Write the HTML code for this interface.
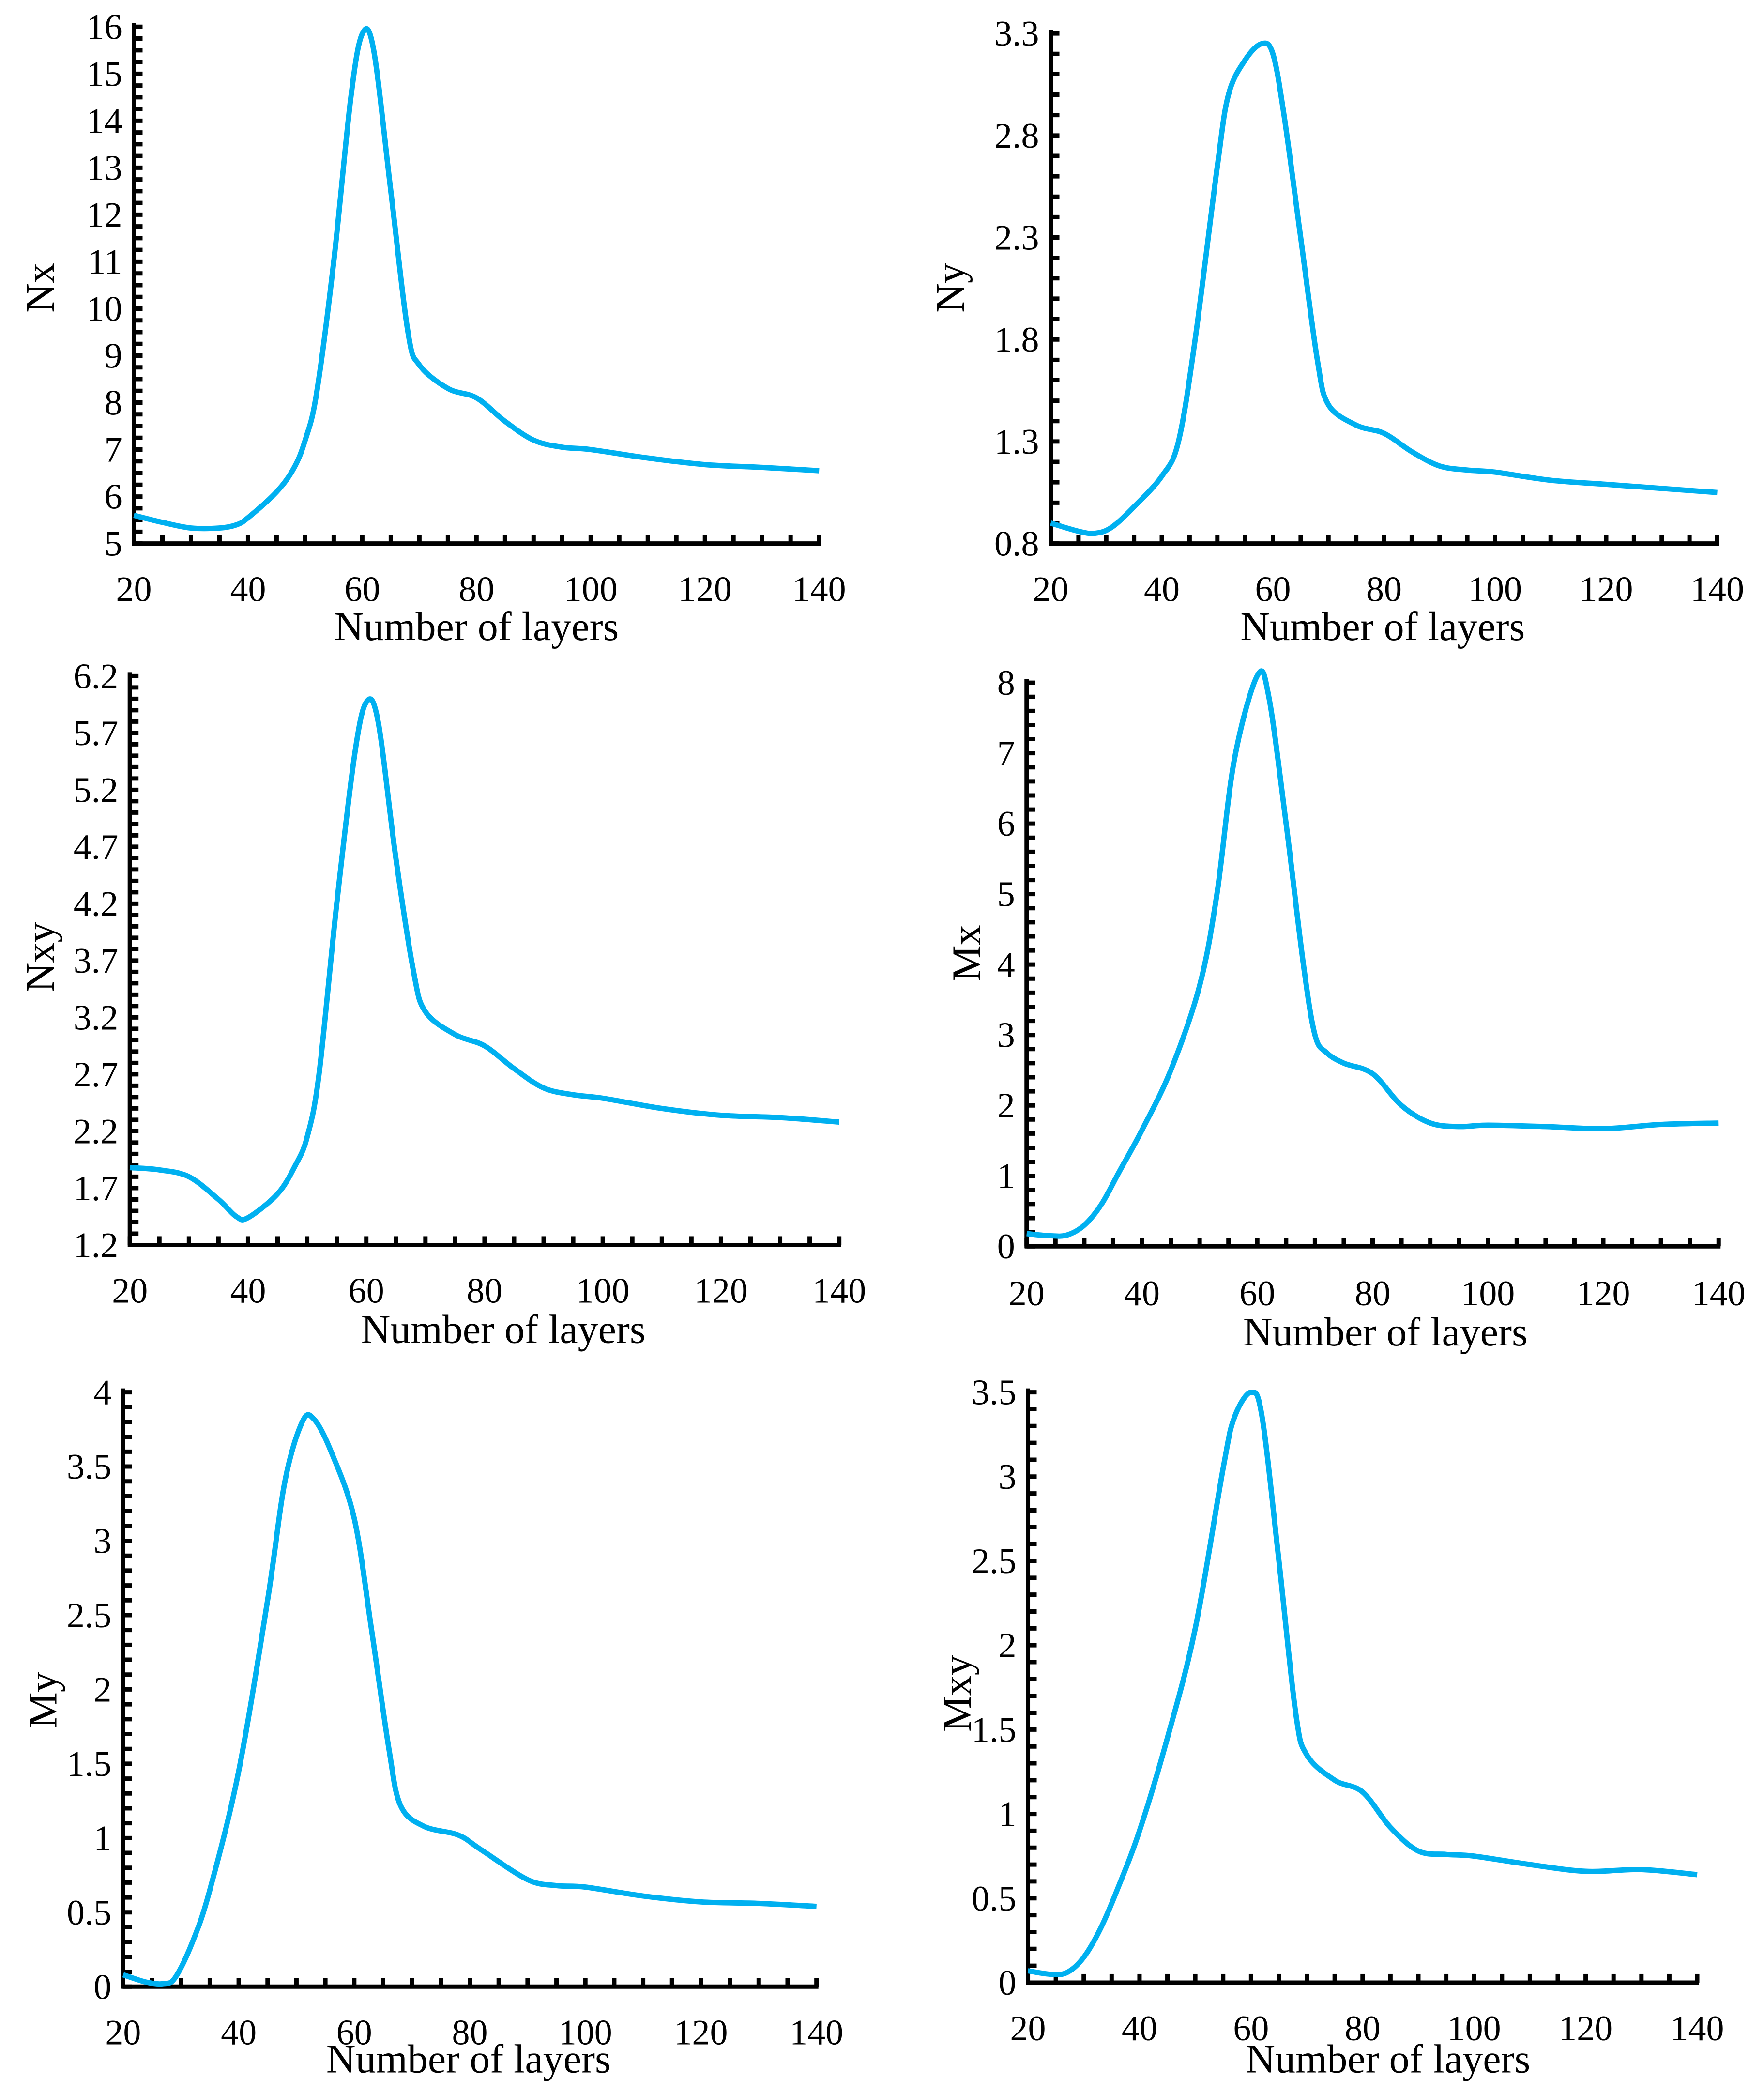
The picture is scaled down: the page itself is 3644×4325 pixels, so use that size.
<!DOCTYPE html>
<html><head><meta charset="utf-8"><style>
html,body{margin:0;padding:0;background:#fff}
svg text{font-family:"Liberation Serif",serif;fill:#000}
</style></head><body>
<svg id="fig" width="3644" height="4320" viewBox="0 0 3644 4320" xmlns="http://www.w3.org/2000/svg"></svg>
<script>
const nxX=[20,25,30,35,38,40,45,48,50,52,55,58,60,62,65,68,70,75,80,85,90,95,100,110,120,130,140];
const nxY=[5.6,5.45,5.33,5.33,5.4,5.55,6.1,6.6,7.2,8.2,11.0,14.5,15.85,15.5,12.5,9.5,8.8,8.3,8.1,7.6,7.2,7.05,7.0,6.82,6.68,6.62,6.55];
const nyX=[20,25,28,31,35,40,43,46,50,52,55,58,60,62,65,68,70,75,80,85,90,95,100,110,120,130,140];
const nyY=[0.9,0.86,0.85,0.88,0.98,1.13,1.3,1.8,2.65,3.0,3.17,3.25,3.2,2.9,2.3,1.7,1.48,1.38,1.34,1.25,1.18,1.16,1.15,1.11,1.09,1.07,1.05];
const nxyX=[20,25,30,35,38,40,45,48,50,52,55,58,60,62,65,68,70,75,80,85,90,95,100,110,120,130,140];
const nxyY=[1.88,1.86,1.8,1.6,1.45,1.44,1.65,1.9,2.15,2.7,4.2,5.5,5.97,5.8,4.6,3.6,3.25,3.05,2.95,2.75,2.58,2.52,2.49,2.4,2.34,2.32,2.28];
const mxX=[20,24,27,30,33,36,40,45,50,53,56,60,62,65,68,70,72,75,80,85,90,95,100,110,120,130,140];
const mxY=[0.18,0.15,0.16,0.3,0.6,1.05,1.65,2.5,3.7,5.0,6.9,8.1,7.8,6.0,4.0,3.0,2.75,2.6,2.45,2.0,1.75,1.7,1.72,1.7,1.67,1.73,1.75];
const myX=[20,24,27,29,32,35,40,45,48,51,53,56,60,63,66,68,72,78,82,90,95,100,110,120,130,140];
const myY=[0.08,0.03,0.02,0.06,0.3,0.65,1.45,2.6,3.4,3.8,3.82,3.6,3.15,2.4,1.6,1.22,1.08,1.02,0.92,0.72,0.68,0.67,0.61,0.57,0.56,0.54];
const mxyX=[20,24,27,30,33,36,40,45,50,55,57,60,62,65,68,70,75,80,85,90,95,100,110,120,130,140];
const mxyY=[0.07,0.05,0.06,0.15,0.32,0.55,0.9,1.45,2.1,3.05,3.35,3.5,3.35,2.5,1.6,1.35,1.2,1.13,0.92,0.78,0.76,0.75,0.7,0.66,0.67,0.64];
const xTicks=[20,40,60,80,100,120,140];
const nxTicks=[5,6,7,8,9,10,11,12,13,14,15,16];
const nyTicks=[0.8,1.3,1.8,2.3,2.8,3.3];
const nxyTicks=[1.2,1.7,2.2,2.7,3.2,3.7,4.2,4.7,5.2,5.7,6.2];
const mxTicks=[0,1,2,3,4,5,6,7,8];
const myTicks=[0,0.5,1,1.5,2,2.5,3,3.5,4];
const mxyTicks=[0,0.5,1,1.5,2,2.5,3,3.5];

const S=2.765, NS="http://www.w3.org/2000/svg", svg=document.getElementById('fig');
function el(t,a,p){const e=document.createElementNS(NS,t);for(const k in a)e.setAttribute(k,a[k]);(p||svg).appendChild(e);return e;}

const panels=[
 {n:'nx',title:'Nx',xs:nxX,ys:nxY,ticks:nxTicks,minor:0.25,ax:100,x1:612,y0:406,y1:20,ymin:5,ymax:16,xl:440,tl:468,tx:30,ty:215,xc:356},
 {n:'ny',title:'Ny',xs:nyX,ys:nyY,ticks:nyTicks,minor:0.1,ax:785,x1:1283,y0:406,y1:25,ymin:0.8,ymax:3.3,xl:440,tl:468,tx:710,ty:215,xc:1033},
 {n:'nxy',title:'Nxy',xs:nxyX,ys:nxyY,ticks:nxyTicks,minor:0.1,ax:97,x1:627,y0:930,y1:505,ymin:1.2,ymax:6.2,xl:964,tl:993,tx:30,ty:715,xc:376},
 {n:'mx',title:'Mx',xs:mxX,ys:mxY,ticks:mxTicks,minor:0.2,ax:767,x1:1284,y0:931,y1:510,ymin:0,ymax:8,xl:966,tl:995,tx:722,ty:712,xc:1035},
 {n:'my',title:'My',xs:myX,ys:myY,ticks:myTicks,minor:0.1,ax:92,x1:610,y0:1484,y1:1040,ymin:0,ymax:4,xl:1518,tl:1538,tx:32,ty:1270,xc:350},
 {n:'mxy',title:'Mxy',xs:mxyX,ys:mxyY,ticks:mxyTicks,minor:0.1,ax:768,x1:1268,y0:1481,y1:1040,ymin:0,ymax:3.5,xl:1515,tl:1538,tx:715,ty:1265,xc:1037}
];

panels.forEach(p=>{
  const g=el('g',{});
  
  
  const X=v=>(p.ax+(v-20)/120*(p.x1-p.ax))*S;
  const Y=v=>(p.y0-(v-p.ymin)/(p.ymax-p.ymin)*(p.y0-p.y1))*S;
  const tl=18;
  for(let v=p.ymin;v<=p.ymax+1e-6;v+=p.minor){
    const t=el('line',{x1:X(20),x2:X(20)+tl,y1:Y(v),y2:Y(v),stroke:'#000','stroke-width':9},g);
    
    
  }
  for(let v=20;v<=140;v+=5){
    const t=el('line',{x1:X(v),x2:X(v),y1:Y(p.ymin),y2:Y(p.ymin)-tl,stroke:'#000','stroke-width':9},g);
    
    
  }
  const ya=el('line',{x1:X(20),x2:X(20),y1:Y(p.ymin)+4,y2:Y(p.ymax)-8,stroke:'#000','stroke-width':9},g);
  
  
  const xa=el('line',{x1:X(20)-4,x2:X(140)+4,y1:Y(p.ymin),y2:Y(p.ymin),stroke:'#000','stroke-width':9},g);
  
  
  p.ticks.forEach(v=>{
    const t=el('text',{x:X(20)-24,y:Y(v)+25,'font-size':74,'text-anchor':'end'},g);
    t.textContent=String(v);
    
    
  });
  xTicks.forEach(v=>{
    const t=el('text',{x:X(v),y:p.xl*S+25,'font-size':74,'text-anchor':'middle'},g);
    t.textContent=String(v);
    
    
  });
  const xt=el('text',{x:p.xc*S,y:p.tl*S+28,'font-size':84,'text-anchor':'middle'},g);
  xt.textContent='Number of layers';
  
  
  const yt=el('text',{x:0,y:0,'font-size':84,'text-anchor':'middle',transform:`translate(${p.tx*S+28},${p.ty*S}) rotate(-90)`},g);
  yt.textContent=p.title;
  
  
  const pts=p.xs.map((x,i)=>[X(x),Y(p.ys[i])]);
  let d=`M${pts[0][0]},${pts[0][1]}`;
  for(let i=0;i<pts.length-1;i++){
    const p0=pts[Math.max(0,i-1)],p1=pts[i],p2=pts[i+1],p3=pts[Math.min(pts.length-1,i+2)];
    const c1=[p1[0]+(p2[0]-p0[0])/6,p1[1]+(p2[1]-p0[1])/6];
    const c2=[p2[0]-(p3[0]-p1[0])/6,p2[1]-(p3[1]-p1[1])/6];
    d+=` C${c1[0]},${c1[1]} ${c2[0]},${c2[1]} ${p2[0]},${p2[1]}`;
  }
  const line=el('path',{d:d,fill:'none',stroke:'#00B0F0','stroke-width':11,'stroke-linejoin':'round'},g);
  
  
});
</script>
</body></html>
